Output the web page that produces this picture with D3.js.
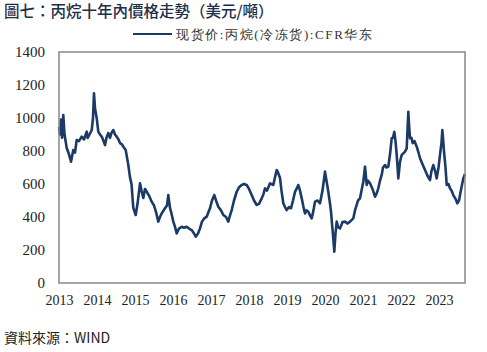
<!DOCTYPE html>
<html>
<head>
<meta charset="utf-8">
<script src="https://cdn.jsdelivr.net/npm/d3@7"></script>
<style>
  html, body { margin: 0; padding: 0; background: #fff; }
  svg { display: block; }
  .serif text, text.serif { font-family: "Liberation Serif", "Times New Roman", serif; }
</style>
</head>
<body>
<svg id="chart" width="487" height="352"></svg>
<script>
// decimal year of each observation
const years = [
  2013.000,2013.026,2013.053,2013.079,2013.113,2013.145,2013.203,2013.263,2013.316,2013.376,
  2013.421,2013.466,2013.526,2013.597,2013.658,2013.729,2013.755,2013.803,2013.861,2013.895,
  2013.921,2013.947,2013.992,2014.034,2014.079,2014.124,2014.158,2014.211,2014.250,2014.297,
  2014.342,2014.382,2014.429,2014.474,2014.518,2014.566,2014.605,2014.658,2014.692,2014.755,
  2014.824,2014.868,2014.908,2014.955,2015.018,2015.066,2015.132,2015.171,2015.218,2015.263,
  2015.308,2015.368,2015.439,2015.500,2015.553,2015.613,2015.658,2015.703,2015.789,2015.842,
  2015.876,2015.921,2015.961,2016.008,2016.053,2016.097,2016.158,2016.229,2016.289,2016.361,
  2016.421,2016.492,2016.553,2016.597,2016.658,2016.711,2016.763,2016.816,2016.887,2016.934,
  2016.974,2017.026,2017.087,2017.132,2017.192,2017.263,2017.324,2017.395,2017.455,2017.500,
  2017.545,2017.605,2017.676,2017.737,2017.808,2017.868,2017.939,2018.000,2018.071,2018.132,
  2018.203,2018.263,2018.334,2018.382,2018.421,2018.474,2018.553,2018.639,2018.684,2018.729,
  2018.763,2018.816,2018.855,2018.903,2018.947,2018.992,2019.053,2019.105,2019.158,2019.211,
  2019.250,2019.297,2019.342,2019.387,2019.434,2019.474,2019.513,2019.561,2019.605,2019.650,
  2019.697,2019.737,2019.803,2019.868,2019.934,2020.000,2020.039,2020.087,2020.132,2020.158,
  2020.184,2020.218,2020.245,2020.276,2020.308,2020.342,2020.395,2020.461,2020.526,2020.592,
  2020.658,2020.745,2020.789,2020.834,2020.868,2020.921,2020.961,2021.008,2021.053,2021.097,
  2021.132,2021.184,2021.250,2021.316,2021.355,2021.403,2021.447,2021.492,2021.526,2021.579,
  2021.618,2021.666,2021.711,2021.755,2021.789,2021.824,2021.855,2021.887,2021.929,2021.974,
  2022.018,2022.061,2022.105,2022.150,2022.192,2022.211,2022.237,2022.276,2022.308,2022.355,
  2022.413,2022.461,2022.500,2022.566,2022.632,2022.697,2022.763,2022.803,2022.850,2022.895,
  2022.939,2022.987,2023.026,2023.066,2023.087,2023.105,2023.132,2023.171,2023.203,2023.250,
  2023.289,2023.329,2023.376,2023.434,2023.482,2023.526,2023.553,2023.592,2023.639,2023.684
];
// price, USD/ton
const prices = [
  945,900,990,880,1018,900,818,780,735,806,
  790,867,860,887,870,917,879,900,927,1000,
  1150,1060,1000,917,900,887,870,836,880,909,
  880,910,927,900,887,870,848,840,826,806,
  715,640,600,455,412,480,604,560,515,570,
  553,530,493,470,430,372,400,422,453,470,
  533,455,420,372,340,301,330,341,335,341,
  330,321,300,281,300,331,372,390,402,430,
  453,500,533,500,462,440,412,400,372,410,
  442,500,553,580,594,600,594,570,533,500,
  473,480,513,540,574,560,604,594,640,685,
  670,636,560,483,460,442,460,453,500,553,
  570,594,560,513,460,422,440,432,410,392,
  440,493,500,483,560,675,620,553,480,432,
  360,271,190,300,372,340,331,370,372,360,
  372,392,440,473,500,513,560,614,705,594,
  620,604,570,523,540,574,620,655,700,715,
  700,705,780,877,880,917,860,776,634,735,
  776,786,796,816,1038,960,877,880,847,860,
  826,790,756,720,685,650,624,680,715,680,
  634,700,776,850,927,880,796,700,594,600,
  574,560,533,510,483,500,533,580,634,660
];
const xTicks = [2013,2014,2015,2016,2017,2018,2019,2020,2021,2022,2023];
const yTicks = [0,200,400,600,800,1000,1200,1400];

const svg = d3.select("#chart");
const L = 59, R = 465, T = 52, B = 283;

const x = d3.scaleLinear().domain([2013, 2023.684]).range([L, R]);
const y = d3.scaleLinear().domain([0, 1400]).range([B, T]);

// title
svg.append("text")
  .attr("x", 4).attr("y", 17)
  .style("font-family", "'Noto Sans CJK TC', 'Noto Sans CJK SC', sans-serif")
  .style("font-size", "15.5px")
  .style("font-weight", 500)
  .attr("fill", "#1c2e4a")
  .text("圖七：丙烷十年內價格走勢（美元/噸）");

// legend
svg.append("line")
  .attr("x1", 133).attr("x2", 172).attr("y1", 34).attr("y2", 34)
  .attr("stroke", "#1b3a66").attr("stroke-width", 2);
svg.append("text")
  .attr("class", "serif")
  .attr("x", 176).attr("y", 39)
  .style("font-size", "13px")
  .style("letter-spacing", "1.6px")
  .attr("fill", "#333")
  .text("现货价:丙烷(冷冻货):CFR华东");

// y axis labels
const yAxis = d3.axisLeft(y).tickValues(yTicks).tickSize(0).tickPadding(14).tickFormat(d3.format("d"));
const gy = svg.append("g").attr("class", "serif").attr("transform", `translate(${L},0)`).call(yAxis);
gy.attr("font-family", null);
gy.select(".domain").remove();
gy.selectAll("text")
  .style("font-family", "'Liberation Serif', 'Times New Roman', serif")
  .style("font-size", "15px")
  .attr("fill", "#222");

// x axis labels
const xAxis = d3.axisBottom(x).tickValues(xTicks).tickSize(0).tickPadding(12).tickFormat(d3.format("d"));
const gx = svg.append("g").attr("class", "serif").attr("transform", `translate(0,${B})`).call(xAxis);
gx.attr("font-family", null);
gx.select(".domain").remove();
gx.selectAll("text")
  .style("font-family", "'Liberation Serif', 'Times New Roman', serif")
  .style("font-size", "14px")
  .attr("fill", "#222");

// series line
const data = years.map((t, i) => ({ t, v: prices[i] }));
svg.append("path")
  .datum(data)
  .attr("fill", "none")
  .attr("stroke", "#1b3a66")
  .attr("stroke-width", 2.6)
  .attr("stroke-linejoin", "round")
  .attr("d", d3.line().x(d => x(d.t)).y(d => y(d.v)));

// plot frame
svg.append("rect")
  .attr("x", L).attr("y", T).attr("width", R - L).attr("height", B - T)
  .attr("fill", "none").attr("stroke", "#888").attr("stroke-width", 1.5);

// source
svg.append("text")
  .attr("x", 4).attr("y", 343)
  .style("font-family", "'Noto Sans CJK TC', 'Noto Sans CJK SC', sans-serif")
  .style("font-size", "14px")
  .attr("fill", "#222")
  .text("資料來源：WIND");
</script>
</body>
</html>
